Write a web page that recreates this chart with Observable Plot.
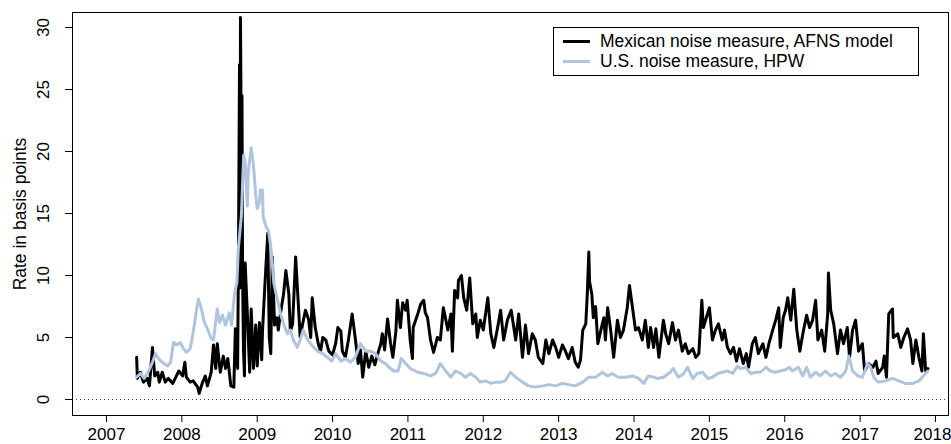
<!DOCTYPE html>
<html><head><meta charset="utf-8">
<script src="https://cdn.jsdelivr.net/npm/d3@7"></script>
<script src="https://cdn.jsdelivr.net/npm/@observablehq/plot@0.6"></script>
<style>
body{margin:0;background:#fff;}
#wrap{position:relative;width:951px;height:444px;font-family:"Liberation Sans",Arial,Helvetica,sans-serif;}
#legend{position:absolute;left:553px;top:27px;width:366px;height:49px;border:1px solid #000;box-sizing:border-box;background:#fff;}
.row{position:absolute;left:0;height:20px;display:flex;align-items:center;font-size:17.5px;line-height:20px;white-space:nowrap;color:#000;}
.sw{width:27px;height:0;margin-left:9px;margin-right:10px;}
</style>
</head><body>
<div id="wrap"></div>
<script>
const seriesNames = ["Mexican noise measure, AFNS model", "U.S. noise measure, HPW"];
const seriesColors = ["#000000", "#b0c4de"];
const yLabel = "Rate in basis points";
const yTicks = [0, 5, 10, 15, 20, 25, 30];
const xTicks = [2007, 2008, 2009, 2010, 2011, 2012, 2013, 2014, 2015, 2016, 2017, 2018];

const mexDates = [2007.40,2007.41,2007.45,2007.49,2007.54,2007.57,2007.61,2007.64,2007.68,2007.70,2007.74,2007.78,2007.82,2007.88,2007.92,2007.96,
2008.01,2008.04,2008.06,2008.11,2008.15,2008.21,2008.23,2008.27,2008.31,2008.34,2008.39,2008.42,2008.45,2008.47,2008.51,2008.55,2008.58,2008.61,2008.65,2008.69,2008.71,2008.74,
2008.752,2008.765,2008.772,2008.778,2008.791,2008.798,2008.805,2008.818,2008.831,2008.84,2008.87,2008.90,2008.92,2008.95,2008.98,
2009.00,2009.03,2009.06,2009.07,2009.10,2009.14,2009.16,2009.18,2009.20,2009.23,2009.26,2009.28,2009.31,2009.35,2009.38,2009.42,2009.44,2009.47,2009.51,2009.55,2009.57,2009.60,2009.64,2009.68,2009.71,2009.73,2009.77,2009.81,2009.84,2009.87,2009.91,2009.95,
2010.00,2010.04,2010.07,2010.11,2010.13,2010.17,2010.21,2010.26,2010.30,2010.34,2010.37,2010.40,2010.44,2010.48,2010.52,2010.56,2010.61,2010.64,2010.66,2010.69,2010.73,2010.77,2010.80,2010.84,2010.86,2010.90,2010.93,2010.97,2010.99,
2011.03,2011.06,2011.07,2011.13,2011.17,2011.21,2011.23,2011.26,2011.30,2011.34,2011.37,2011.39,2011.43,2011.47,2011.53,2011.57,2011.59,2011.62,2011.66,2011.67,2011.71,2011.74,2011.78,2011.82,2011.86,2011.90,2011.92,2011.96,
2012.00,2012.06,2012.10,2012.14,2012.19,2012.23,2012.27,2012.32,2012.37,2012.43,2012.47,2012.49,2012.52,2012.56,2012.60,2012.65,2012.69,2012.73,2012.79,2012.83,2012.87,2012.92,2012.96,
2013.00,2013.05,2013.09,2013.13,2013.18,2013.22,2013.26,2013.29,2013.32,2013.36,2013.38,2013.40,2013.41,2013.44,2013.46,2013.49,2013.52,2013.56,2013.60,2013.62,2013.65,2013.69,2013.73,2013.78,2013.82,2013.86,2013.91,2013.94,2013.98,
2014.02,2014.06,2014.11,2014.15,2014.19,2014.22,2014.26,2014.29,2014.33,2014.39,2014.42,2014.46,2014.51,2014.55,2014.59,2014.64,2014.68,2014.72,2014.78,2014.82,2014.86,2014.90,2014.92,2014.96,
2015.00,2015.04,2015.08,2015.12,2015.17,2015.20,2015.24,2015.28,2015.32,2015.36,2015.40,2015.45,2015.49,2015.52,2015.57,2015.61,2015.65,2015.71,2015.75,2015.79,2015.84,2015.88,2015.92,2015.94,2015.98,
2016.01,2016.04,2016.08,2016.12,2016.16,2016.20,2016.24,2016.29,2016.33,2016.37,2016.41,2016.44,2016.49,2016.53,2016.57,2016.58,2016.61,2016.65,2016.70,2016.74,2016.78,2016.83,2016.86,2016.90,2016.94,2016.98,
2017.03,2017.06,2017.11,2017.17,2017.21,2017.24,2017.30,2017.32,2017.35,2017.38,2017.43,2017.44,2017.50,2017.54,2017.58,2017.63,2017.67,2017.70,2017.74,2017.78,2017.82,2017.84,2017.87,2017.90];

const mexValues = [3.4,1.7,2.2,1.4,1.7,1.1,4.2,1.9,2.2,1.4,2.2,1.4,1.7,1.3,1.8,2.3,
1.9,3.0,1.8,1.4,1.5,1.0,0.5,1.3,1.9,1.1,2.2,4.4,2.5,4.5,2.2,3.5,2.5,3.3,1.1,1.0,5.7,2.5,
12.2,27.0,9.0,30.8,18.0,24.5,10.8,4.0,1.9,11.0,6.8,2.2,7.3,2.5,6.0,
2.7,6.2,3.2,5.5,9.0,13.4,5.0,3.7,11.5,6.0,6.6,5.6,7.0,8.5,10.4,8.5,5.5,6.1,11.5,7.2,5.0,6.0,7.2,6.5,5.0,8.2,5.8,4.5,3.9,5.0,4.8,3.9,
3.6,4.5,5.8,5.5,3.9,3.4,4.8,6.9,5.0,2.9,4.0,1.8,3.9,2.6,3.5,2.8,3.9,4.5,5.3,4.0,6.5,4.5,3.4,5.5,8.0,5.8,7.8,7.2,8.0,
4.8,3.3,5.8,6.9,7.7,8.0,7.0,6.6,4.8,3.8,4.5,5.0,4.8,7.4,5.6,6.9,3.9,8.8,8.2,9.6,10.0,8.2,7.2,9.8,6.1,6.9,5.0,6.4,
5.6,8.2,5.3,4.2,5.8,7.2,4.8,6.4,7.2,4.8,6.9,5.5,3.4,6.0,3.7,5.3,4.8,3.4,2.9,4.8,3.7,4.8,4.2,
3.4,4.4,3.9,3.3,4.2,3.0,2.6,3.2,5.6,6.1,8.5,11.9,9.5,8.5,6.6,7.5,4.5,5.6,6.6,4.8,7.4,5.6,3.4,6.4,5.0,5.6,7.4,9.2,7.4,
5.6,5.8,4.8,6.4,4.2,5.8,4.2,5.7,3.4,6.4,5.3,4.5,6.2,4.8,5.6,3.9,4.5,3.7,4.1,3.4,3.7,8.0,5.8,6.6,
7.4,4.8,5.6,6.1,4.8,5.6,4.2,3.7,4.2,3.1,4.1,2.9,3.7,2.6,4.5,5.0,3.7,4.5,3.4,4.5,5.6,6.4,7.4,4.2,6.6,
7.2,8.2,6.4,8.9,5.6,3.9,5.3,6.8,5.8,6.4,8.0,4.8,5.6,3.9,6.9,10.2,7.2,6.1,3.7,5.6,4.5,5.8,3.4,5.6,6.4,3.9,
4.5,2.3,2.9,2.6,3.1,2.1,2.6,3.5,1.8,6.9,7.3,5.0,5.3,4.2,5.0,5.7,4.8,2.9,4.8,3.4,2.3,5.3,2.3,2.5];

const usDates = [2007.40,2007.45,2007.50,2007.56,2007.61,2007.65,2007.69,2007.74,2007.81,2007.85,2007.89,2007.94,2007.98,
2008.02,2008.06,2008.11,2008.15,2008.21,2008.22,2008.26,2008.30,2008.34,2008.39,2008.42,2008.47,2008.50,2008.54,2008.58,2008.63,2008.66,2008.70,2008.73,2008.75,2008.79,2008.82,2008.84,2008.87,2008.88,2008.92,2008.95,2008.98,
2009.00,2009.03,2009.04,2009.07,2009.08,2009.12,2009.15,2009.18,2009.20,2009.22,2009.27,2009.31,2009.35,2009.40,2009.44,2009.48,2009.53,2009.57,2009.61,2009.67,2009.71,2009.75,2009.80,2009.87,2009.93,2009.99,
2010.04,2010.11,2010.17,2010.24,2010.30,2010.37,2010.44,2010.50,2010.57,2010.64,2010.70,2010.73,2010.81,2010.87,2010.91,2010.97,
2011.03,2011.13,2011.21,2011.30,2011.37,2011.43,2011.50,2011.57,2011.63,2011.70,2011.76,2011.83,2011.90,2011.96,
2012.03,2012.10,2012.16,2012.23,2012.29,2012.36,2012.43,2012.52,2012.60,2012.69,2012.79,2012.87,2012.96,
2013.05,2013.13,2013.22,2013.32,2013.40,2013.49,2013.58,2013.65,2013.71,2013.79,2013.89,2013.98,
2014.06,2014.13,2014.19,2014.26,2014.31,2014.39,2014.48,2014.52,2014.59,2014.66,2014.71,2014.78,2014.84,2014.91,2014.98,
2015.04,2015.11,2015.17,2015.24,2015.31,2015.37,2015.41,2015.48,2015.55,2015.61,2015.68,2015.75,2015.81,2015.88,2015.94,
2016.01,2016.06,2016.10,2016.18,2016.24,2016.29,2016.34,2016.41,2016.47,2016.54,2016.61,2016.67,2016.74,2016.81,2016.85,2016.90,2016.97,
2017.03,2017.10,2017.14,2017.18,2017.24,2017.34,2017.43,2017.51,2017.60,2017.70,2017.78,2017.84,2017.90];

const usValues = [1.8,2.1,1.7,2.3,3.0,3.7,3.3,3.0,2.7,3.0,4.6,4.4,4.6,
4.1,3.8,4.1,5.4,7.8,8.1,7.3,6.2,5.7,4.9,4.8,7.3,6.2,6.8,6.0,7.0,6.0,8.6,9.4,12.2,14.8,19.7,19.1,15.6,18.3,20.3,18.9,16.5,
15.4,15.9,16.9,16.9,14.7,13.9,13.6,12.3,11.0,9.4,8.0,6.9,6.1,5.3,5.6,4.8,4.2,4.8,5.6,4.8,4.5,4.2,3.9,3.7,3.4,3.1,
3.7,3.1,3.3,3.0,3.4,4.5,3.9,3.9,3.7,3.1,2.9,2.7,2.3,2.3,3.3,2.9,
2.5,2.2,2.1,1.9,2.1,2.9,2.3,1.8,2.3,2.1,1.8,2.1,1.8,1.4,
1.5,1.3,1.4,1.4,1.5,2.2,1.8,1.4,1.1,1.0,1.1,1.2,1.1,
1.3,1.2,1.1,1.4,1.8,1.8,2.2,1.9,2.1,1.8,1.8,1.9,
1.7,1.3,1.9,1.8,1.7,1.8,2.2,2.5,1.8,2.1,2.6,1.7,2.1,2.2,1.7,
1.8,2.1,2.2,2.3,2.1,2.7,2.5,2.6,2.1,2.2,2.2,2.6,2.3,2.2,2.3,
2.4,2.6,2.3,2.6,1.9,2.6,1.8,2.2,1.9,2.3,1.9,2.1,1.8,2.3,3.5,2.3,1.9,
1.8,2.9,2.6,1.8,1.4,1.5,1.7,1.5,1.3,1.3,1.5,1.9,2.3];

const mex = mexDates.map((d, i) => ({date: d, value: mexValues[i]}));
const us = usDates.map((d, i) => ({date: d, value: usValues[i]}));
const lastYear = xTicks[xTicks.length - 1];

const font = '"Liberation Sans", Arial, Helvetica, sans-serif';

const chart = Plot.plot({
  width: 951, height: 444,
  marginLeft: 72, marginRight: 3, marginTop: 12, marginBottom: 29,
  style: {fontFamily: font, fontSize: "17px", background: "white", color: "black"},
  x: {domain: [2006.549, 2018.173]},
  y: {domain: [-1.29, 31.21]},
  marks: [
    Plot.ruleY([0], {stroke: "#444", strokeWidth: 1, strokeDasharray: "1,3"}),
    Plot.line(mex, {x: "date", y: "value", stroke: seriesColors[0], strokeWidth: 3, strokeLinejoin: "round"}),
    Plot.line(us, {x: "date", y: "value", stroke: seriesColors[1], strokeWidth: 3, strokeLinejoin: "round"}),
    Plot.frame({stroke: "black", strokeWidth: 1}),
    Plot.axisX({ticks: xTicks, tickFormat: d => d === lastYear ? "" : String(d), tickSize: 7, tickPadding: 5, fontSize: 17, label: null}),
    Plot.text([lastYear], {x: d => d, text: d => String(d), frameAnchor: "bottom", lineAnchor: "top", dy: 12, dx: -3, fontSize: 17}),
    Plot.axisY({ticks: yTicks, tickFormat: d => String(d), tickSize: 7, tickPadding: 17, tickRotate: -90, fontSize: 17, label: null}),
    Plot.text([yLabel], {text: d => d, frameAnchor: "left", dx: -47, rotate: -90, fontSize: 17.5, lineAnchor: "bottom", textAnchor: "middle"})
  ]
});

const wrap = document.getElementById("wrap");
wrap.appendChild(chart);

const legend = document.createElement("div");
legend.id = "legend";
seriesNames.forEach((name, i) => {
  const row = document.createElement("div");
  row.className = "row";
  row.style.top = (3 + i * 20) + "px";
  const sw = document.createElement("span");
  sw.className = "sw";
  sw.style.borderTop = "3px solid " + seriesColors[i];
  const tx = document.createElement("span");
  tx.textContent = name;
  row.appendChild(sw);
  row.appendChild(tx);
  legend.appendChild(row);
});
wrap.appendChild(legend);
</script>
</body></html>
